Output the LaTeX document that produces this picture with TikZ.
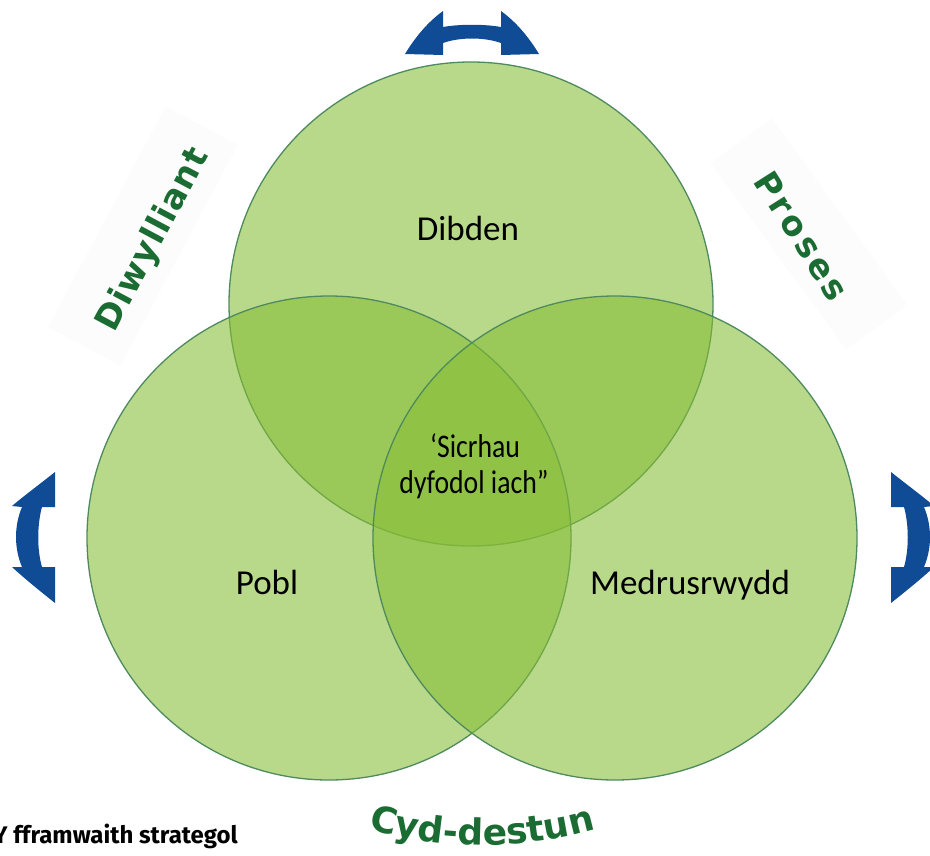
\documentclass[tikz,border=0pt]{standalone}
\usepackage{fontspec}
\usetikzlibrary{decorations.text}
\newfontfamily\lblfont{Carlito}
\newfontfamily\condfont[FakeStretch=0.84]{Carlito}
\newfontfamily\greenfont{DejaVu Sans}
\newfontfamily\greenfontD[LetterSpace=3]{DejaVu Sans}
\newfontfamily\greenfontP[LetterSpace=10]{DejaVu Sans}
\newfontfamily\capfont{Fira Sans}
\definecolor{vennfill}{RGB}{134,189,54}
\definecolor{vennline}{RGB}{78,138,94}
\definecolor{arrowblue}{RGB}{16,75,150}
\definecolor{labelgreen}{RGB}{26,108,50}
\definecolor{bgfaint}{RGB}{252,252,252}
\tikzset{
  venn/.style={circle, minimum size=484pt, inner sep=0pt, fill=vennfill, fill opacity=0.58, draw=vennline, line width=1.3pt},
  lbl/.style={font=\lblfont\fontsize{35}{35}\selectfont, text=black, anchor=base},
  ctr/.style={font=\condfont\fontsize{33}{36}\selectfont, text=black, align=center, anchor=base},
  side/.style={text=labelgreen, inner sep=0pt},
  sidebg/.style={fill=bgfaint, draw=none, inner sep=0pt},
  blue/.style={fill=arrowblue}
}
\begin{document}
\begin{tikzpicture}[x=1pt,y=-1pt]
\useasboundingbox (0,0) rectangle (930,855);
% faint label backgrounds
\node[sidebg, rotate=62, minimum width=250pt, minimum height=82pt] (bgD) at (143,236) {};
\node[sidebg, rotate=-54, minimum width=231pt, minimum height=76pt] (bgP) at (809,234) {};
% circles
\node[venn] (top) at (471,304) {};
\node[venn] (left) at (329,538) {};
\node[venn] (right) at (615,538) {};
% circle labels
\node[lbl] (dib) at (468,240) {Dibden};
\node[lbl] (pob) at (267,594) {Pobl};
\node[lbl] (med) at (690,594) {Medrusrwydd};
\node[ctr] (c1) at (475,457) {‘Sicrhau};
\node[ctr] (c2) at (474,493) {dyfodol iach”};
% side labels
\node[side, rotate=62, font=\greenfontD\bfseries\fontsize{34}{34}\selectfont] (diw) at (154,240) {Diwylliant};
\node[side, rotate=-57.6, font=\greenfontP\bfseries\fontsize{34}{34}\selectfont] (pro) at (802,236) {Proses};
\path[decorate, decoration={text along path, text align=center,
  text={|\greenfont\bfseries\fontsize{36}{36}\selectfont\color{labelgreen}|Cyd-destun}}]
  (350,824) .. controls (437,852) and (528,852) .. (614,824);
% caption
\node[font=\capfont\bfseries\fontsize{24}{24}\selectfont, anchor=base east, inner sep=0pt] (cap) at (238,843) {Y fframwaith strategol};
% top arrow
\fill[blue] (405,54) .. controls (416,36) and (428,22) .. (443,11) -- (443,27)
  .. controls (460,24) and (484,24) .. (501,27) -- (501,11)
  .. controls (516,22) and (528,36) .. (539,54) -- (501,55) -- (501,43)
  .. controls (484,37) and (460,37) .. (443,43) -- (443,55) -- cycle;
% left arrow
\fill[blue] (55,472) -- (55,507) -- (42,507) .. controls (37,525) and (37,550) .. (42,567)
  -- (55,567) -- (55,603) .. controls (40,591) and (25,579) .. (12,567) -- (22,567)
  .. controls (14,548) and (14,526) .. (22,507) -- (12,506)
  .. controls (25,495) and (40,484) .. (55,472) -- cycle;
% right arrow (mirror)
\begin{scope}[xshift=946pt, xscale=-1]
\fill[blue] (55,472) -- (55,507) -- (42,507) .. controls (37,525) and (37,550) .. (42,567)
  -- (55,567) -- (55,603) .. controls (40,591) and (25,579) .. (12,567) -- (22,567)
  .. controls (14,548) and (14,526) .. (22,507) -- (12,506)
  .. controls (25,495) and (40,484) .. (55,472) -- cycle;
\end{scope}
\end{tikzpicture}
\end{document}
